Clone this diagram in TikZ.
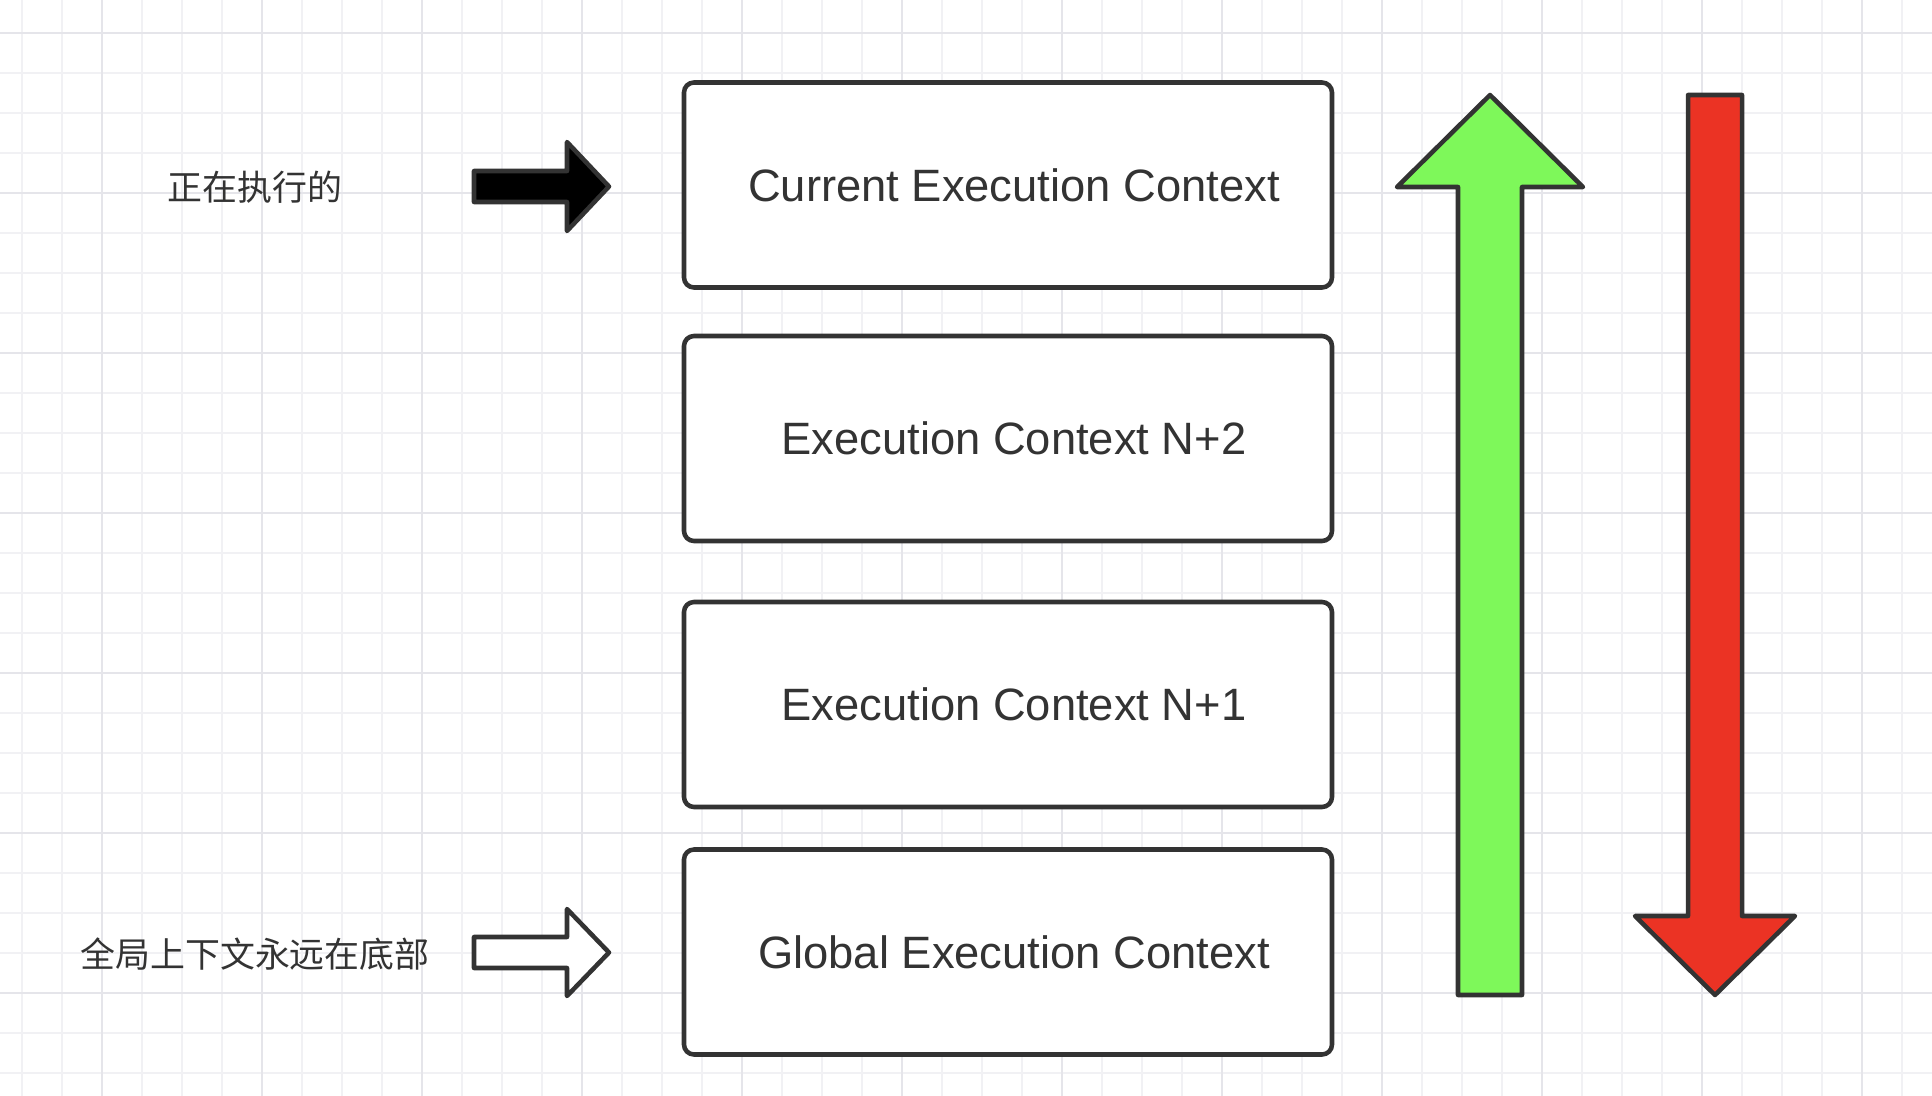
\documentclass[tikz,border=0pt]{standalone}
\usepackage{fontspec}
\setmainfont{Liberation Sans}
\newfontfamily\cjk{Noto Sans CJK SC}
\definecolor{inkgray}{HTML}{333333}
\definecolor{gridminor}{HTML}{F1F1F4}
\definecolor{gridmajor}{HTML}{E5E5EA}
\definecolor{pushgreen}{HTML}{7EF85A}
\definecolor{popred}{HTML}{EB3324}
\def\boxw{486pt}
\def\boxh{153.75pt}
\def\boxx{1008}

\tikzset{
  ctxbox/.style={draw=inkgray, line width=3.4pt, rounded corners=7.5pt, fill=white,
    minimum width=\boxw, minimum height=\boxh, text=inkgray, font=\fontsize{34}{41}\selectfont,
    execute at begin node=\hspace*{9pt}},
  note/.style={text=inkgray, font=\cjk\fontsize{26.2}{31}\selectfont},
  blockarrow/.style={draw=inkgray, line width=3.4pt, line join=round}
}

\begin{document}
\begin{tikzpicture}[x=0.75pt,y=-0.75pt]
		% Canvas and background grid.
		\useasboundingbox (0,0) rectangle (1932,1096);
		\fill[white] (0,0) rectangle (1932,1096);
		\foreach \gx in {22,62,...,1902} \draw[gridminor, line width=1.2pt] (\gx,0) -- (\gx,1096);
		\foreach \gy in {33,73,...,1073} \draw[gridminor, line width=1.2pt] (0,\gy) -- (1932,\gy);
		\foreach \gx in {102,262,...,1862} \draw[gridmajor, line width=1.5pt] (\gx,0) -- (\gx,1096);
		\foreach \gy in {33,193,...,993} \draw[gridmajor, line width=1.5pt] (0,\gy) -- (1932,\gy);

		% The stack of execution contexts.
		\node[ctxbox] (current) at (\boxx,185) {Current Execution Context};
		\node[ctxbox] (ctxtwo) at (\boxx,438.5) {Execution Context N+2};
		\node[ctxbox] (ctxone) at (\boxx,704.5) {Execution Context N+1};
		\node[ctxbox] (global) at (\boxx,952) {Global Execution Context};

		% Notes on the left.
		\node[note] (running) at (255,187) {正在执行的};
		\node[note] (bottom) at (255,954) {全局上下文永远在底部};

		% Pointer arrows, solid for the top and hollow for the bottom.
		\draw[blockarrow, fill=black] (474,171) -- (567,171) -- (567,142) -- (609,186.5)
			-- (567,231) -- (567,202) -- (474,202) -- cycle;
		\draw[blockarrow, fill=white] (474,937) -- (567,937) -- (567,909) -- (609,952.5)
			-- (567,996) -- (567,968) -- (474,968) -- cycle;

		% Push goes up, pop goes down.
		\draw[blockarrow, fill=pushgreen] (1458,995) -- (1458,187) -- (1397,187) -- (1490,95)
			-- (1583,187) -- (1522,187) -- (1522,995) -- cycle;
		\draw[blockarrow, fill=popred] (1688,95) -- (1742,95) -- (1742,916) -- (1795,916)
			-- (1715,995) -- (1635,916) -- (1688,916) -- cycle;
\end{tikzpicture}
\end{document}
